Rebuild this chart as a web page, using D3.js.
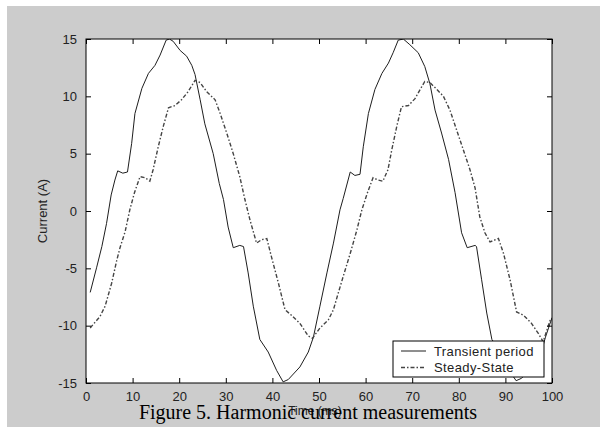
<!DOCTYPE html>
<html>
<head>
<meta charset="utf-8">
<script src="https://cdn.jsdelivr.net/npm/d3@7"></script>
<style>
  html, body { margin: 0; padding: 0; background: #ffffff; }
  svg { display: block; }
</style>
</head>
<body>
<div id="chart"></div>
<script>

// Data (time in ms, current in A)

var transientTime = [ 0.9, 2.3, 3.4, 4.4, 5.4, 6.2, 6.8, 7.9, 8.9, 9.8, 10.5, 12.0, 13.4, 14.8, 15.9, 17.2, 17.9, 18.7, 20.2, 21.6,
    22.7, 23.4, 24.5, 25.5, 27.3, 28.6, 29.5, 30.5, 31.6, 33.0, 33.8, 34.8, 35.9, 37.3, 39.1, 40.9, 42.3, 43.4, 45.9, 47.7,
    48.8, 50.2, 51.7, 53.1, 54.5, 55.2, 56.7, 57.7, 58.8, 59.5, 60.6, 62.0, 63.5, 64.9, 65.9, 67.0, 68.1, 69.5, 71.3, 72.7,
    73.8, 74.9, 76.3, 77.8, 79.2, 80.6, 81.8, 83.5, 83.8, 84.9, 86.0, 87.1, 88.9, 90.8, 92.3, 93.4, 95.9, 97.7, 98.6, 100 ];

var transientCurrent = [ -7.1, -4.9, -3.1, -1.1, 1.4, 2.7, 3.5, 3.3, 3.4, 5.9, 8.5, 10.7, 12.0, 12.7, 13.6, 14.9, 15.0, 14.8, 14.0, 13.5,
    12.7, 11.9, 9.7, 7.6, 5.0, 2.4, 1.0, -1.4, -3.2, -3.0, -3.1, -5.4, -8.3, -11.2, -12.3, -13.9, -14.9, -14.7, -13.6, -12.3,
    -11.0, -8.3, -5.4, -2.8, 0.1, 1.1, 3.4, 3.1, 3.2, 5.6, 8.5, 10.6, 12.0, 12.9, 13.8, 14.9, 15.0, 14.5, 13.8, 12.6,
    11.1, 8.8, 6.8, 4.5, 1.6, -1.9, -3.2, -3.0, -3.1, -6.0, -8.9, -11.2, -12.3, -13.9, -14.8, -14.6, -13.7, -12.3, -11.0, -9.3 ];

var steadyTime = [ 0.9, 3.0, 4.1, 5.5, 6.6, 7.3, 8.4, 9.4, 10.4, 11.6, 12.7, 13.7, 14.4, 15.5, 16.6, 17.7, 19.1, 20.5, 21.9, 23.4,
    24.5, 25.9, 27.7, 28.8, 30.2, 31.6, 33.0, 34.1, 35.2, 36.6, 37.7, 38.8, 39.8, 41.3, 42.7, 44.1, 45.9, 47.7, 48.6, 50.2,
    52.0, 53.1, 54.1, 55.2, 56.7, 58.1, 59.2, 60.4, 61.6, 62.7, 63.7, 64.8, 65.6, 66.7, 67.7, 69.2, 70.6, 71.7, 72.7, 73.8,
    75.3, 76.7, 78.1, 79.5, 81.0, 82.4, 83.5, 84.5, 85.6, 86.7, 88.5, 89.6, 91.0, 92.4, 93.9, 95.6, 97.1, 98.1, 99.7 ];

var steadyCurrent = [ -10.2, -9.2, -8.3, -6.3, -4.3, -3.2, -1.8, 0.1, 1.6, 3.0, 2.9, 2.6, 3.6, 5.6, 7.4, 9.0, 9.2, 9.7, 10.4, 11.4,
    11.2, 10.4, 9.7, 8.5, 6.8, 5.0, 3.0, 1.0, -0.8, -2.8, -2.5, -2.4, -4.0, -6.3, -8.6, -9.1, -9.8, -10.9, -11.1, -10.2,
    -9.5, -8.6, -7.2, -5.7, -3.7, -1.7, 0.1, 1.6, 2.9, 2.7, 2.6, 3.6, 5.3, 7.4, 9.1, 9.2, 9.8, 10.6, 11.3, 11.2,
    10.6, 10.0, 8.8, 7.1, 5.3, 3.6, 2.0, -0.5, -1.9, -2.7, -2.4, -3.7, -6.0, -8.8, -9.1, -9.8, -10.7, -11.4, -9.4 ];

var xTicks = [ 0, 10, 20, 30, 40, 50, 60, 70, 80, 90, 100 ];
var yTicks = [ -15, -10, -5, 0, 5, 10, 15 ];
var seriesNames = [ "Transient period", "Steady-State" ];

// Layout

var width = 600, height = 428;
var plot = { left: 86, top: 39, right: 552, bottom: 383 };
var font = "'Liberation Sans', Arial, Helvetica, sans-serif";

var svg = d3.select("#chart").append("svg")
    .attr("width", width)
    .attr("height", height);

// Figure background

svg.append("rect")
    .attr("x", 7)
    .attr("y", 6)
    .attr("width", width - 7)
    .attr("height", 421)
    .style("fill", "#cccccc");

var x = d3.scaleLinear().domain([ 0, 100 ]).range([ plot.left, plot.right ]);
var y = d3.scaleLinear().domain([ -15, 15 ]).range([ plot.bottom, plot.top ]);

// plain hyphen for negatives, like the original
var plainNumber = function ( d ) { return String( d ); };

// Axes area

svg.append("rect")
    .attr("x", plot.left)
    .attr("y", plot.top)
    .attr("width", plot.right - plot.left)
    .attr("height", plot.bottom - plot.top)
    .style("fill", "#ffffff");

svg.append("defs").append("clipPath")
    .attr("id", "plot-clip")
    .append("rect")
    .attr("x", plot.left)
    .attr("y", plot.top)
    .attr("width", plot.right - plot.left)
    .attr("height", plot.bottom - plot.top);

// Curves

var line = d3.line()
    .x(function ( d ) { return x( d[0] ); })
    .y(function ( d ) { return y( d[1] ); });

var transient = d3.zip( transientTime, transientCurrent );
var steady = d3.zip( steadyTime, steadyCurrent );

var curves = svg.append("g").attr("clip-path", "url(#plot-clip)");

curves.append("path")
    .datum( transient )
    .attr("d", line)
    .style("fill", "none")
    .style("stroke", "#1e1e1e")
    .style("stroke-width", 1);

curves.append("path")
    .datum( steady )
    .attr("d", line)
    .style("fill", "none")
    .style("stroke", "#444444")
    .style("stroke-width", 1.4)
    .style("stroke-dasharray", "4,2,1.5,2");

// Axes, MATLAB style: ticks inside, on all four sides

var bottomAxis = svg.append("g")
    .attr("transform", "translate(0," + plot.bottom + ")")
    .call( d3.axisBottom( x ).tickValues( xTicks ).tickSizeInner( -5 ).tickSizeOuter( 0 ).tickPadding( 9 ).tickFormat( plainNumber ) );

var topAxis = svg.append("g")
    .attr("transform", "translate(0," + plot.top + ")")
    .call( d3.axisTop( x ).tickValues( xTicks ).tickSizeInner( -5 ).tickSizeOuter( 0 ).tickFormat("") );

var leftAxis = svg.append("g")
    .attr("transform", "translate(" + plot.left + ",0)")
    .call( d3.axisLeft( y ).tickValues( yTicks ).tickSizeInner( -5 ).tickSizeOuter( 0 ).tickPadding( 9 ).tickFormat( plainNumber ) );

var rightAxis = svg.append("g")
    .attr("transform", "translate(" + plot.right + ",0)")
    .call( d3.axisRight( y ).tickValues( yTicks ).tickSizeInner( -5 ).tickSizeOuter( 0 ).tickFormat("") );

[ bottomAxis, topAxis, leftAxis, rightAxis ].forEach(function ( g ) {
    g.select(".domain").remove();
    g.selectAll(".tick line").style("stroke", "#000");
    g.selectAll(".tick text")
        .style("font-family", font)
        .style("font-size", "13px")
        .style("fill", "#222");
});

svg.append("rect")
    .attr("x", plot.left)
    .attr("y", plot.top)
    .attr("width", plot.right - plot.left)
    .attr("height", plot.bottom - plot.top)
    .style("fill", "none")
    .style("stroke", "#000")
    .style("stroke-width", 1);

// Axis labels

svg.append("text")
    .attr("transform", "translate(47," + ( plot.top + plot.bottom ) / 2 + ") rotate(-90)")
    .attr("text-anchor", "middle")
    .style("font-family", font)
    .style("font-size", "13px")
    .style("fill", "#222")
    .text("Current (A)");

svg.append("text")
    .attr("x", ( plot.left + plot.right ) / 2 - 4)
    .attr("y", 415)
    .attr("text-anchor", "middle")
    .style("font-family", font)
    .style("font-size", "12px")
    .style("fill", "#222")
    .text("Time (ms)");

// Legend

var legend = svg.append("g")
    .attr("transform", "translate(393,341)");

legend.append("rect")
    .attr("width", 151)
    .attr("height", 36)
    .style("fill", "#ffffff")
    .style("stroke", "#000")
    .style("stroke-width", 1);

var rows = legend.selectAll(".row")
    .data( seriesNames )
    .enter().append("g")
    .attr("transform", function ( d, i ) { return "translate(0," + ( 10 + i * 16.5 ) + ")"; });

rows.append("line")
    .attr("x1", 8)
    .attr("x2", 33)
    .style("stroke", function ( d, i ) { return i === 0 ? "#1e1e1e" : "#444444"; })
    .style("stroke-width", function ( d, i ) { return i === 0 ? 1 : 1.4; })
    .style("stroke-dasharray", function ( d, i ) { return i === 0 ? null : "4,2,1.5,2"; });

rows.append("text")
    .attr("x", 41)
    .attr("y", 4.5)
    .style("font-family", font)
    .style("font-size", "13px")
    .style("letter-spacing", "0.4px")
    .style("fill", "#222")
    .text(function ( d ) { return d; });

// Caption

svg.append("text")
    .attr("x", 308)
    .attr("y", 419)
    .attr("text-anchor", "middle")
    .style("font-family", "'Liberation Serif', 'Times New Roman', serif")
    .style("font-size", "20px")
    .style("fill", "#000")
    .text("Figure 5. Harmonic current measurements");

</script>
</body>
</html>
